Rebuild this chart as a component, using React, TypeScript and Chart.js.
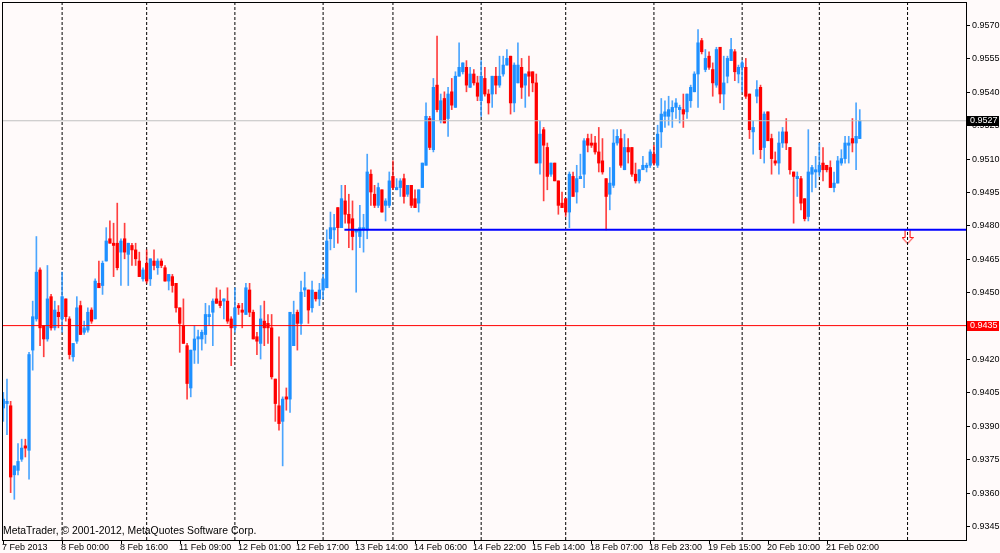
import { useEffect, useRef } from 'react';
import Chart from 'chart.js/auto';

// H1 candles (bar 0 = 7 Feb 2013)
const opens = [
  0.9398, 0.9400, 0.9399, 0.9368, 0.9370, 0.9375, 0.9381, 0.9379, 0.9424, 0.9438,
  0.9460, 0.9435, 0.9429, 0.9448, 0.9434, 0.9441, 0.9438, 0.9447, 0.9438, 0.9421,
  0.9428, 0.9444, 0.9432, 0.9433, 0.9442, 0.9438, 0.9454, 0.9453, 0.9464, 0.9474,
  0.9472, 0.9472, 0.9468, 0.9474, 0.9467, 0.9471, 0.9469, 0.9464, 0.9456, 0.9463,
  0.9456, 0.9464, 0.9461, 0.9464, 0.9461, 0.9455, 0.9457, 0.9454, 0.9443, 0.9435,
  0.9426, 0.9407, 0.9424, 0.9429, 0.9429, 0.9431, 0.9439, 0.9441, 0.9447, 0.9446,
  0.9446, 0.9446, 0.9438, 0.9434, 0.9444, 0.9442, 0.9440, 0.9451, 0.9441, 0.9430,
  0.9427, 0.9437, 0.9436, 0.9434, 0.9411, 0.9399, 0.9392, 0.9403, 0.9402, 0.9426,
  0.9441, 0.9436, 0.9451, 0.9451, 0.9443, 0.9450, 0.9447, 0.9451, 0.9452, 0.9474,
  0.9478, 0.9488, 0.9479, 0.9491, 0.9485, 0.9483, 0.9477, 0.9475, 0.9478, 0.9478,
  0.9503, 0.9494, 0.9489, 0.9496, 0.9489, 0.9489, 0.9502, 0.9496, 0.9497, 0.9501,
  0.9494, 0.9498, 0.9492, 0.9490, 0.9497, 0.9507, 0.9528, 0.9514, 0.9543, 0.9527,
  0.9537, 0.9528, 0.9540, 0.9533, 0.9547, 0.9549, 0.9551, 0.9542, 0.9548, 0.9544,
  0.9536, 0.9546, 0.9539, 0.9539, 0.9547, 0.9543, 0.9548, 0.9552, 0.9556, 0.9535,
  0.9544, 0.9551, 0.9543, 0.9549, 0.9549, 0.9544, 0.9508, 0.9523, 0.9515, 0.9503,
  0.9508, 0.9500, 0.9490, 0.9492, 0.9486, 0.9502, 0.9495, 0.9501, 0.9503, 0.9519,
  0.9517, 0.9517, 0.9513, 0.9509, 0.9501, 0.9494, 0.9498, 0.9517, 0.9519, 0.9505,
  0.9515, 0.9515, 0.9503, 0.9500, 0.9505, 0.9506, 0.9507, 0.9512, 0.9507, 0.9522,
  0.9529, 0.9529, 0.9531, 0.9533, 0.9532, 0.9532, 0.9531, 0.9536, 0.9540, 0.9548,
  0.9563, 0.9550, 0.9556, 0.9550, 0.9543, 0.9560, 0.9539, 0.9547, 0.9554, 0.9558,
  0.9548, 0.9551, 0.9551, 0.9539, 0.9522, 0.9538, 0.9542, 0.9515, 0.9531, 0.9519,
  0.9509, 0.9508, 0.9517, 0.9522, 0.9515, 0.9504, 0.9501, 0.9501, 0.9492, 0.9484,
  0.9503, 0.9504, 0.9504, 0.9508, 0.9507, 0.9506, 0.9497, 0.9499, 0.9508, 0.9510,
  0.9516, 0.9519, 0.9517, 0.9519,
];

const highs = [
  0.9405, 0.9411, 0.9401, 0.9372, 0.9382, 0.9384, 0.9384, 0.9423, 0.9446, 0.9475,
  0.9461, 0.9435, 0.9462, 0.9449, 0.9446, 0.9444, 0.9459, 0.9447, 0.9439, 0.9427,
  0.9448, 0.9446, 0.9437, 0.9443, 0.9443, 0.9456, 0.9464, 0.9464, 0.9479, 0.9482,
  0.9481, 0.9490, 0.9474, 0.9481, 0.9472, 0.9472, 0.9472, 0.9468, 0.9461, 0.9469,
  0.9465, 0.9469, 0.9465, 0.9465, 0.9462, 0.9458, 0.9458, 0.9454, 0.9443, 0.9447,
  0.9427, 0.9424, 0.9435, 0.9433, 0.9433, 0.9445, 0.9444, 0.9447, 0.9452, 0.9451,
  0.9447, 0.9452, 0.9439, 0.9452, 0.9445, 0.9445, 0.9454, 0.9454, 0.9442, 0.9432,
  0.9444, 0.9446, 0.9440, 0.9440, 0.9411, 0.9430, 0.9403, 0.9407, 0.9441, 0.9446,
  0.9442, 0.9455, 0.9459, 0.9451, 0.9455, 0.9450, 0.9454, 0.9458, 0.9478, 0.9486,
  0.9485, 0.9488, 0.9498, 0.9498, 0.9494, 0.9491, 0.9478, 0.9489, 0.9485, 0.9512,
  0.9505, 0.9498, 0.9499, 0.9496, 0.9492, 0.9504, 0.9509, 0.9501, 0.9501, 0.9503,
  0.9498, 0.9498, 0.9496, 0.9496, 0.9508, 0.9535, 0.9529, 0.9546, 0.9565, 0.9539,
  0.9540, 0.9542, 0.9546, 0.9549, 0.9562, 0.9553, 0.9554, 0.9551, 0.9550, 0.9547,
  0.9554, 0.9551, 0.9541, 0.9547, 0.9551, 0.9556, 0.9556, 0.9559, 0.9556, 0.9553,
  0.9562, 0.9555, 0.9548, 0.9556, 0.9549, 0.9548, 0.9527, 0.9524, 0.9517, 0.9508,
  0.9508, 0.9500, 0.9495, 0.9492, 0.9504, 0.9504, 0.9507, 0.9512, 0.9519, 0.9521,
  0.9521, 0.9520, 0.9524, 0.9519, 0.9501, 0.9506, 0.9523, 0.9523, 0.9523, 0.9521,
  0.9519, 0.9515, 0.9508, 0.9505, 0.9511, 0.9508, 0.9514, 0.9516, 0.9525, 0.9537,
  0.9536, 0.9538, 0.9536, 0.9537, 0.9534, 0.9539, 0.9539, 0.9543, 0.9549, 0.9568,
  0.9564, 0.9559, 0.9558, 0.9553, 0.9560, 0.9560, 0.9556, 0.9556, 0.9564, 0.9559,
  0.9552, 0.9554, 0.9555, 0.9539, 0.9527, 0.9545, 0.9543, 0.9531, 0.9531, 0.9521,
  0.9513, 0.9522, 0.9524, 0.9528, 0.9515, 0.9504, 0.9504, 0.9502, 0.9492, 0.9523,
  0.9507, 0.9511, 0.9517, 0.9515, 0.9507, 0.9509, 0.9504, 0.9511, 0.9514, 0.9520,
  0.9520, 0.9528, 0.9535, 0.9532,
];

const lows = [
  0.9392, 0.9386, 0.9360, 0.9357, 0.9368, 0.9374, 0.9376, 0.9366, 0.9415, 0.9437,
  0.9426, 0.9421, 0.9428, 0.9433, 0.9433, 0.9434, 0.9432, 0.9437, 0.9420, 0.9419,
  0.9427, 0.9431, 0.9431, 0.9432, 0.9436, 0.9438, 0.9452, 0.9449, 0.9464, 0.9472,
  0.9457, 0.9460, 0.9453, 0.9465, 0.9453, 0.9462, 0.9462, 0.9457, 0.9455, 0.9454,
  0.9453, 0.9460, 0.9458, 0.9461, 0.9455, 0.9451, 0.9450, 0.9441, 0.9423, 0.9427,
  0.9402, 0.9403, 0.9418, 0.9418, 0.9424, 0.9427, 0.9435, 0.9426, 0.9445, 0.9443,
  0.9438, 0.9436, 0.9417, 0.9432, 0.9440, 0.9434, 0.9440, 0.9439, 0.9429, 0.9422,
  0.9420, 0.9426, 0.9427, 0.9411, 0.9392, 0.9388, 0.9372, 0.9397, 0.9396, 0.9426,
  0.9424, 0.9431, 0.9448, 0.9436, 0.9441, 0.9446, 0.9444, 0.9447, 0.9452, 0.9469,
  0.9470, 0.9472, 0.9479, 0.9481, 0.9470, 0.9469, 0.9450, 0.9470, 0.9468, 0.9474,
  0.9489, 0.9488, 0.9488, 0.9486, 0.9482, 0.9488, 0.9496, 0.9496, 0.9493, 0.9490,
  0.9493, 0.9488, 0.9488, 0.9486, 0.9497, 0.9507, 0.9514, 0.9513, 0.9531, 0.9526,
  0.9526, 0.9520, 0.9532, 0.9533, 0.9547, 0.9548, 0.9540, 0.9542, 0.9543, 0.9536,
  0.9529, 0.9538, 0.9530, 0.9533, 0.9539, 0.9542, 0.9547, 0.9552, 0.9530, 0.9531,
  0.9544, 0.9537, 0.9533, 0.9538, 0.9540, 0.9508, 0.9503, 0.9491, 0.9496, 0.9502,
  0.9500, 0.9485, 0.9488, 0.9484, 0.9479, 0.9493, 0.9490, 0.9501, 0.9497, 0.9513,
  0.9515, 0.9512, 0.9504, 0.9503, 0.9478, 0.9487, 0.9497, 0.9516, 0.9506, 0.9505,
  0.9508, 0.9502, 0.9499, 0.9499, 0.9505, 0.9504, 0.9506, 0.9507, 0.9506, 0.9515,
  0.9524, 0.9525, 0.9524, 0.9528, 0.9526, 0.9524, 0.9528, 0.9533, 0.9540, 0.9533,
  0.9557, 0.9549, 0.9550, 0.9538, 0.9542, 0.9535, 0.9532, 0.9544, 0.9554, 0.9545,
  0.9544, 0.9540, 0.9537, 0.9519, 0.9512, 0.9535, 0.9510, 0.9508, 0.9518, 0.9503,
  0.9507, 0.9503, 0.9515, 0.9514, 0.9503, 0.9481, 0.9493, 0.9487, 0.9482, 0.9482,
  0.9495, 0.9497, 0.9502, 0.9500, 0.9504, 0.9497, 0.9495, 0.9499, 0.9507, 0.9508,
  0.9508, 0.9513, 0.9505, 0.9519,
];

const closes = [
  0.9402, 0.9401, 0.9367, 0.9372, 0.9374, 0.9380, 0.9380, 0.9422, 0.9439, 0.9459,
  0.9434, 0.9429, 0.9447, 0.9434, 0.9442, 0.9439, 0.9448, 0.9439, 0.9422, 0.9427,
  0.9443, 0.9431, 0.9434, 0.9441, 0.9437, 0.9455, 0.9452, 0.9463, 0.9473, 0.9472,
  0.9471, 0.9461, 0.9473, 0.9468, 0.9472, 0.9469, 0.9465, 0.9457, 0.9460, 0.9455,
  0.9465, 0.9462, 0.9464, 0.9462, 0.9455, 0.9458, 0.9453, 0.9443, 0.9436, 0.9427,
  0.9409, 0.9424, 0.9429, 0.9430, 0.9432, 0.9440, 0.9440, 0.9446, 0.9445, 0.9444,
  0.9447, 0.9437, 0.9434, 0.9443, 0.9443, 0.9441, 0.9452, 0.9441, 0.9429, 0.9428,
  0.9438, 0.9434, 0.9434, 0.9412, 0.9400, 0.9391, 0.9402, 0.9402, 0.9441, 0.9440,
  0.9436, 0.9450, 0.9452, 0.9442, 0.9451, 0.9447, 0.9451, 0.9456, 0.9473, 0.9479,
  0.9479, 0.9479, 0.9492, 0.9485, 0.9481, 0.9475, 0.9478, 0.9479, 0.9479, 0.9504,
  0.9495, 0.9489, 0.9497, 0.9486, 0.9491, 0.9500, 0.9497, 0.9497, 0.9500, 0.9493,
  0.9498, 0.9489, 0.9488, 0.9496, 0.9508, 0.9529, 0.9515, 0.9542, 0.9532, 0.9536,
  0.9526, 0.9539, 0.9534, 0.9547, 0.9551, 0.9553, 0.9543, 0.9548, 0.9544, 0.9538,
  0.9547, 0.9539, 0.9535, 0.9547, 0.9543, 0.9547, 0.9552, 0.9555, 0.9535, 0.9552,
  0.9552, 0.9542, 0.9548, 0.9547, 0.9544, 0.9508, 0.9521, 0.9516, 0.9502, 0.9508,
  0.9500, 0.9489, 0.9488, 0.9486, 0.9503, 0.9493, 0.9501, 0.9502, 0.9518, 0.9516,
  0.9516, 0.9513, 0.9508, 0.9504, 0.9493, 0.9499, 0.9517, 0.9520, 0.9507, 0.9515,
  0.9513, 0.9503, 0.9500, 0.9505, 0.9507, 0.9507, 0.9513, 0.9508, 0.9521, 0.9530,
  0.9531, 0.9532, 0.9533, 0.9535, 0.9533, 0.9530, 0.9539, 0.9542, 0.9548, 0.9562,
  0.9558, 0.9555, 0.9551, 0.9544, 0.9559, 0.9539, 0.9544, 0.9555, 0.9559, 0.9549,
  0.9551, 0.9553, 0.9538, 0.9523, 0.9524, 0.9541, 0.9514, 0.9530, 0.9518, 0.9510,
  0.9508, 0.9517, 0.9522, 0.9517, 0.9505, 0.9502, 0.9502, 0.9490, 0.9483, 0.9504,
  0.9506, 0.9505, 0.9507, 0.9505, 0.9505, 0.9497, 0.9499, 0.9509, 0.9510, 0.9517,
  0.9517, 0.9517, 0.9520, 0.9527,
];

// bottom time scale: one label every 16 bars
const labelBars = [0, 16, 32, 48, 64, 80, 96, 112, 128, 144, 160, 176, 192, 208, 224];
const timeLabels = [
  '7 Feb 2013', '8 Feb 00:00', '8 Feb 16:00', '11 Feb 09:00', '12 Feb 01:00',
  '12 Feb 17:00', '13 Feb 14:00', '14 Feb 06:00', '14 Feb 22:00', '15 Feb 14:00',
  '18 Feb 07:00', '18 Feb 23:00', '19 Feb 15:00', '20 Feb 10:00', '21 Feb 02:00',
];

// day separators (bar index of the first bar of each day)
const separatorBars = [16, 39, 63, 87, 106, 130, 153, 177, 201, 222, 246];

const priceTicks = [
  0.9345, 0.9360, 0.9375, 0.9390, 0.9405, 0.9420, 0.9435, 0.9450,
  0.9465, 0.9480, 0.9495, 0.9510, 0.9525, 0.9540, 0.9555, 0.9570,
];

const bidLevel = 0.9527;
const alertLevel = 0.9435;
const supportLevel = 0.9478;
const supportStartBar = 92.8;
const arrowBar = 246;
const arrowPrice = 0.9475;

const X_MIN = -0.354;
const X_MAX = 261.9;
const Y_MIN = 0.933872;
const Y_MAX = 0.958033;

const BULL = '#1E90FF';
const BEAR = '#FF0000';
const FONT = 'Liberation Sans';

function makeArrow() {
  const c = document.createElement('canvas');
  c.width = 12;
  c.height = 15;
  const g = c.getContext('2d')!;
  g.beginPath();
  g.moveTo(3.5, 0.5);
  g.lineTo(8.5, 0.5);
  g.lineTo(8.5, 8.5);
  g.lineTo(11.5, 8.5);
  g.lineTo(6, 14.5);
  g.lineTo(0.5, 8.5);
  g.lineTo(3.5, 8.5);
  g.closePath();
  g.fillStyle = '#ffffff';
  g.fill();
  g.strokeStyle = '#ff0000';
  g.lineWidth = 1;
  g.stroke();
  return c;
}

// MetaTrader window chrome: background, frame, both price/time scales, flags
const mtChrome = {
  id: 'mtChrome',
  beforeDraw(chart: any) {
    const { ctx, width, height } = chart;
    ctx.save();
    ctx.fillStyle = '#FFFAFA';
    ctx.fillRect(0, 0, width, height);
    ctx.restore();
  },
  afterDraw(chart: any) {
    const { ctx, chartArea: a, scales } = chart;
    const x = scales.x;
    const y = scales.y;
    const right = Math.round(a.right);
    const bottom = Math.round(a.bottom);
    ctx.save();

    // frame
    ctx.strokeStyle = '#000';
    ctx.lineWidth = 1;
    ctx.strokeRect(Math.round(a.left) + 0.5, Math.round(a.top) + 0.5,
      right - Math.round(a.left), bottom - Math.round(a.top));

    ctx.fillStyle = '#000';
    ctx.font = `9px "${FONT}"`;

    // price scale
    ctx.textAlign = 'left';
    ctx.textBaseline = 'middle';
    priceTicks.forEach(v => {
      const py = Math.round(y.getPixelForValue(v));
      ctx.fillRect(right + 1, py, 3, 1);
      ctx.fillText(v.toFixed(4), right + 6, py + 0.5);
    });

    // time scale
    ctx.textBaseline = 'top';
    labelBars.forEach((b, k) => {
      const px = Math.round(x.getPixelForValue(b));
      ctx.fillRect(px, bottom + 1, 1, 3);
      ctx.fillText(timeLabels[k], px - 1, bottom + 3);
    });

    // price flags on the right scale
    const flags = [
      { v: bidLevel, bg: '#000000' },
      { v: alertLevel, bg: '#FF0000' },
    ];
    ctx.textBaseline = 'middle';
    flags.forEach(f => {
      const py = Math.round(y.getPixelForValue(f.v));
      ctx.fillStyle = f.bg;
      ctx.fillRect(right + 1, py - 5, 32, 10);
      ctx.fillStyle = '#ffffff';
      ctx.fillText(f.v.toFixed(4), right + 4, py);
    });

    // copyright line
    ctx.fillStyle = '#000';
    ctx.font = `10.4px "${FONT}"`;
    ctx.fillText('MetaTrader, © 2001-2012, MetaQuotes Software Corp.', a.left + 1, a.bottom - 9);
    ctx.restore();
  },
};

export default function App() {
  const chartRef = useRef<HTMLCanvasElement>(null);

  useEffect(() => {
    document.body.style.margin = '0';
    if (!chartRef.current) return;
    const ctx = chartRef.current.getContext('2d');
    if (!ctx) return;

    const bars = opens.map((_, i) => i);
    const isBull = (i: number) => closes[i] >= opens[i];

    const sepData: any[] = [];
    separatorBars.forEach(s => {
      sepData.push({ x: s, y: Y_MIN }, { x: s, y: Y_MAX }, { x: s, y: NaN });
    });

    const chart = new Chart(ctx, {
      type: 'bar',
      data: {
        datasets: [
          {
            type: 'scatter',
            data: [{ x: arrowBar, y: arrowPrice }],
            pointStyle: makeArrow() as any,
            pointRadius: 6,
            pointHoverRadius: 6,
            order: 12,
          } as any,
          {
            type: 'line',
            data: sepData,
            borderColor: '#000',
            borderWidth: 1,
            borderDash: [3, 2],
            pointRadius: 0,
            pointHoverRadius: 0,
            spanGaps: false,
            order: 10,
          },
          {
            type: 'bar',
            data: bars.map(i => ({ x: i, y: [lows[i], highs[i]] })),
            backgroundColor: (c: any) =>
              isBull(c.dataIndex) ? 'rgba(30,144,255,0.8)' : 'rgba(255,0,0,0.75)',
            barThickness: 1,
            grouped: false,
            borderWidth: 0,
            order: 6,
          } as any,
          {
            type: 'bar',
            data: bars.map(i => ({ x: i, y: [opens[i], closes[i]] })),
            backgroundColor: (c: any) => (isBull(c.dataIndex) ? BULL : BEAR),
            barThickness: 2.6,
            minBarLength: 1,
            grouped: false,
            borderWidth: 0,
            order: 5,
          } as any,
          {
            type: 'line',
            data: [{ x: X_MIN, y: bidLevel }, { x: X_MAX, y: bidLevel }],
            borderColor: '#C0C0C0',
            borderWidth: 1,
            pointRadius: 0,
            pointHoverRadius: 0,
            order: 2,
          },
          {
            type: 'line',
            data: [{ x: X_MIN, y: alertLevel }, { x: X_MAX, y: alertLevel }],
            borderColor: '#FF0000',
            borderWidth: 1,
            pointRadius: 0,
            pointHoverRadius: 0,
            order: 2,
          },
          {
            type: 'line',
            data: [{ x: supportStartBar, y: supportLevel }, { x: X_MAX, y: supportLevel }],
            borderColor: '#0000FF',
            borderWidth: 2,
            pointRadius: 0,
            pointHoverRadius: 0,
            order: 1,
          },
        ],
      },
      options: {
        animation: false,
        responsive: false,
        devicePixelRatio: 1,
        events: [],
        // room for the price scale (right) and time scale (bottom)
        layout: { autoPadding: false, padding: { left: 2, top: 2, right: 34, bottom: 13 } },
        plugins: {
          legend: { display: false },
          tooltip: { enabled: false },
          title: { display: false },
        },
        scales: {
          x: { type: 'linear', display: false, min: X_MIN, max: X_MAX, offset: false },
          y: { type: 'linear', display: false, min: Y_MIN, max: Y_MAX },
        },
      } as any,
      plugins: [mtChrome],
    });

    return () => {
      chart.destroy();
    };
  }, []);

  return (
    <div style={{ position: 'fixed', left: 0, top: 0, width: 1000, height: 553, background: '#FFFAFA' }}>
      <canvas ref={chartRef} width={1000} height={553} style={{ display: 'block' }}></canvas>
    </div>
  );
}
